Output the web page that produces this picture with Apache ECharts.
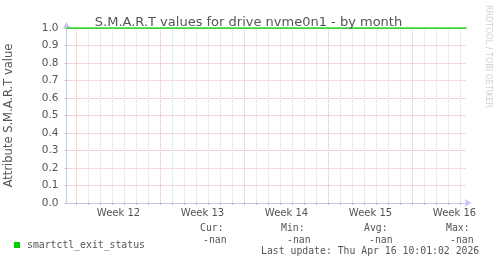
<!DOCTYPE html>
<html><head><meta charset="utf-8">
<script src="https://cdn.jsdelivr.net/npm/echarts@6/dist/echarts.min.js"></script>
<style>html,body{margin:0;padding:0;background:#fff}#c{width:497px;height:264px}</style>
</head><body><div id="c"></div>
<script>
const chartTitle = 'S.M.A.R.T values for drive nvme0n1 - by month';
const yAxisName = 'Attribute S.M.A.R.T value';
const watermark = 'RRDTOOL / TOBI OETIKER';
const rangeHours = [0, 800];
const seriesName = 'smartctl_exit_status';
const seriesTimes = [0, 800];
const seriesValues = [1, 1];
const weekBoundaries = [20, 188, 356, 524, 692];
const dayBoundaries = [20,44,68,92,116,140,164,188,212,236,260,284,308,332,356,380,404,428,452,476,500,524,548,572,596,620,644,668,692,716,740,764,788];
const weekLabelPositions = [104, 272, 440, 608, 776];
const weekLabels = ['Week 12','Week 13','Week 14','Week 15','Week 16'];
const statHeaders = ['Cur:','Min:','Avg:','Max:'];
const statValues = ['-nan','-nan','-nan','-nan'];
const lastUpdate = 'Last update: Thu Apr 16 10:01:02 2026';

const TXT = '#555';
const MONO = '"DejaVu Sans Mono", monospace';
const SANS = '"DejaVu Sans", sans-serif';
const minorColor = '#d8d8d8';
const majorColor = '#eeb0b0';
const axisColor = '#c4c4ee';

const chart = echarts.init(document.getElementById('c'), null, {renderer: 'canvas'});

const headerX = [200, 281, 364, 446];
const valueX = [203, 287, 369, 450];
const graphics = [];
statHeaders.forEach((h, i) => {
  graphics.push({type: 'text', left: headerX[i], top: 223, style: {text: h, font: '9.8px ' + MONO, fill: TXT}});
  graphics.push({type: 'text', left: valueX[i], top: 235, style: {text: statValues[i], font: '9.8px ' + MONO, fill: TXT}});
});
graphics.push({type: 'text', left: 261, top: 246, style: {text: lastUpdate, font: '9.8px ' + MONO, fill: TXT}});
graphics.push({type: 'text', x: 492, y: 5, rotation: -Math.PI / 2, style: {text: watermark, font: '8px ' + SANS, fill: '#d0d0d0'}});

chart.setOption({
  animation: false,
  backgroundColor: '#fff',
  title: {text: chartTitle, left: 'center', top: 11, textStyle: {fontFamily: SANS, fontSize: 13, fontWeight: 'normal', color: TXT}},
  grid: {left: 66.5, right: 30.5, top: 28, bottom: 61, containLabel: false, outerBoundsMode: 'none'},
  legend: {
    data: [seriesName], left: 9, top: 235, icon: 'rect', itemWidth: 6, itemHeight: 6, itemGap: 4,
    textStyle: {fontFamily: MONO, fontSize: 9.8, color: TXT, padding: [0,0,0,2]}
  },
  xAxis: {
    type: 'value', min: rangeHours[0], max: rangeHours[1], position: 'bottom',
    axisLine: {show: true, lineStyle: {color: axisColor}, symbol: ['none', 'arrow'], symbolSize: [6, 7], symbolOffset: [0, 5]},
    axisTick: {show: true, interval: 0, customValues: dayBoundaries, length: 2, lineStyle: {color: '#bbb'}},
    axisLabel: {show: true, interval: 0, customValues: weekLabelPositions, margin: 5,
      formatter: v => weekLabels[weekLabelPositions.indexOf(v)] || '',
      fontFamily: SANS, fontSize: 10, color: TXT},
    splitLine: {show: true, interval: 0, lineStyle: {color: minorColor, type: 'dotted', width: 1}}, z: 3
  },
  yAxis: {
    type: 'value', min: 0, max: 1, interval: 0.1,
    name: yAxisName, nameLocation: 'middle', nameGap: 51,
    nameTextStyle: {fontFamily: SANS, fontSize: 11.5, color: TXT},
    axisLine: {show: true, lineStyle: {color: axisColor}, symbol: ['none', 'arrow'], symbolSize: [6, 7], symbolOffset: [0, 6]},
    axisTick: {show: true, length: 2, lineStyle: {color: '#bbb'}},
    axisLabel: {margin: 8, fontFamily: SANS, fontSize: 10.5, color: TXT, formatter: v => v.toFixed(1)},
    splitLine: {show: true, lineStyle: {color: majorColor, type: 'dotted', width: 1}}, z: 3
  },
  graphic: graphics,
  series: [{
    name: seriesName, type: 'line', color: '#00cc00',
    data: seriesTimes.map((t, i) => [t, seriesValues[i]]),
    symbol: 'none', lineStyle: {width: 1.5, color: '#00cc00'}, z: 5,
    markLine: {
      silent: true, symbol: ['none', 'none'], label: {show: false}, animation: false, z: 4,
      lineStyle: {color: majorColor, type: 'dotted', width: 1},
      data: weekBoundaries.map(d => ({xAxis: d}))
    }
  }]
});
</script></body></html>
